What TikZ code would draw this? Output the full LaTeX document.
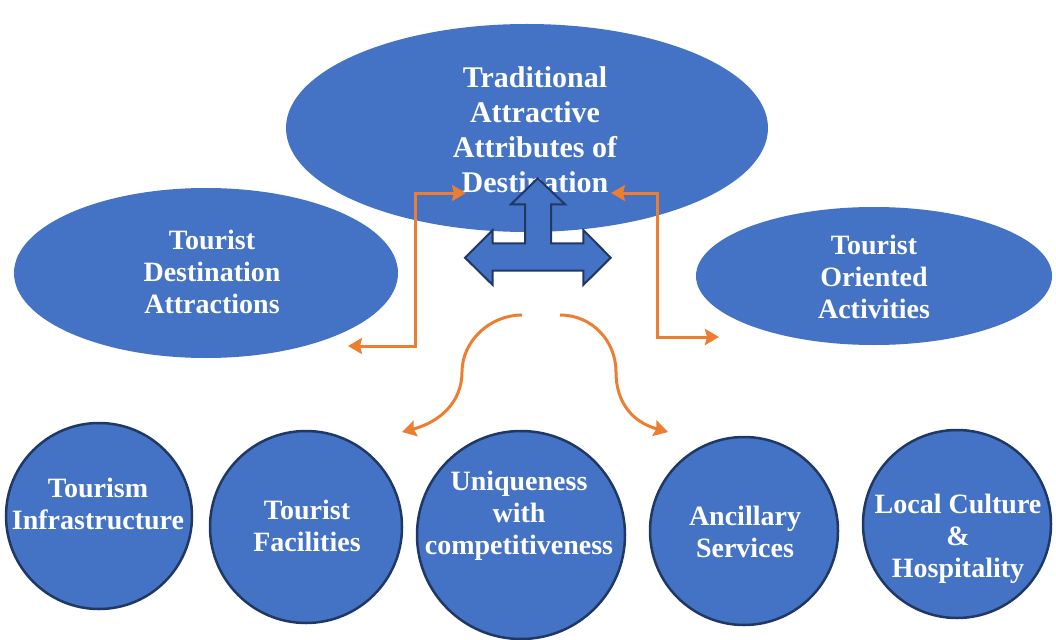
\documentclass[tikz,border=0pt]{standalone}
\usepackage{fontspec}
\setmainfont{Liberation Serif}
\usetikzlibrary{shapes.geometric,arrows.meta}
\definecolor{bfill}{HTML}{4472C4}
\definecolor{navy}{HTML}{1F3864}
\definecolor{oran}{HTML}{ED7D31}
\tikzset{
  oval/.style={ellipse, fill=bfill, inner sep=0pt, outer sep=0pt},
  ball/.style={circle, fill=bfill, draw=navy, line width=2.5pt, inner sep=0pt, outer sep=0pt},
  lbl/.style={text=white, align=center, font=\fontsize{28}{32}\selectfont\bfseries},
  biglbl/.style={text=white, align=center, font=\fontsize{30}{35}\selectfont\bfseries},
  oarr/.style={draw=oran, line width=3pt, {Stealth[length=14pt,width=16pt,inset=2pt]}-{Stealth[length=14pt,width=16pt,inset=2pt]}},
  oarrone/.style={draw=oran, line width=3pt, -{Stealth[length=14pt,width=16pt,inset=2pt]}},
  threeway/.style={fill=bfill, draw=navy, line width=2pt, line join=miter}
}
\begin{document}
\begin{tikzpicture}[x=1pt,y=-1pt]
\useasboundingbox (0,0) rectangle (1056,639);
% ovals
\node[oval, minimum width=482pt, minimum height=208pt] (top) at (527,128) {};
\node[oval, minimum width=384pt, minimum height=170pt] (left) at (206,273) {};
\node[oval, minimum width=356pt, minimum height=138pt] (right) at (874,276) {};
\node[biglbl] (ttop) at (535,130) {Traditional\\Attractive\\Attributes of\\Destination};
\node[lbl] (tleft) at (212,272) {Tourist\\Destination\\Attractions};
\node[lbl] (tright) at (874,277) {Tourist\\Oriented\\Activities};
% circles
\node[ball, minimum size=186pt] (c1) at (99,516) {};
\node[ball, minimum size=192pt] (c2) at (306,527) {};
\node[ball, minimum size=208pt] (c3) at (521,535) {};
\node[ball, minimum size=188pt] (c4) at (744,531) {};
\node[ball, minimum size=188pt] (c5) at (957,524) {};
\node[lbl] (t1) at (98,504) {Tourism\\Infrastructure};
\node[lbl] (t2) at (307,526) {Tourist\\Facilities};
\node[lbl] (t3) at (519,516) {Uniqueness\\with\\competitiveness};
\node[lbl] (t4) at (745,532) {Ancillary\\Services};
\node[lbl] (t5) at (958,539) {Local Culture\\\&\\Hospitality};
% three-way arrow
\draw[threeway] (537.7,178.3) -- (565,204.3) -- (551,204.3) -- (551,243.3) -- (583.3,243.3)
  -- (583.3,230) -- (610.7,257.7) -- (583.3,285) -- (583.3,270.7) -- (492.7,270.7)
  -- (492.7,285) -- (465,257.7) -- (492.7,230) -- (492.7,243.3) -- (525,243.3)
  -- (525,204.3) -- (511,204.3) -- cycle;
% orange connectors
\coordinate (l1) at (348,346);
\coordinate (l2) at (466,193);
\coordinate (r1) at (611,193);
\coordinate (r2) at (719,337);
\draw[oarr] (l1) -- (415,346) |- (l2);
\draw[oarr] (r1) -- (657,193) |- (r2);
\coordinate (cl1) at (522,315);
\coordinate (cl2) at (402,432);
\coordinate (cr1) at (560,315);
\coordinate (cr2) at (668,432);
\draw[oarrone] (cl1) .. controls (490,315) and (462,341) .. (462,372) .. controls (462,402) and (440,422) .. (cl2);
\draw[oarrone] (cr1) .. controls (592,315) and (616,341) .. (616,372) .. controls (616,402) and (632,422) .. (cr2);
\end{tikzpicture}
\end{document}
